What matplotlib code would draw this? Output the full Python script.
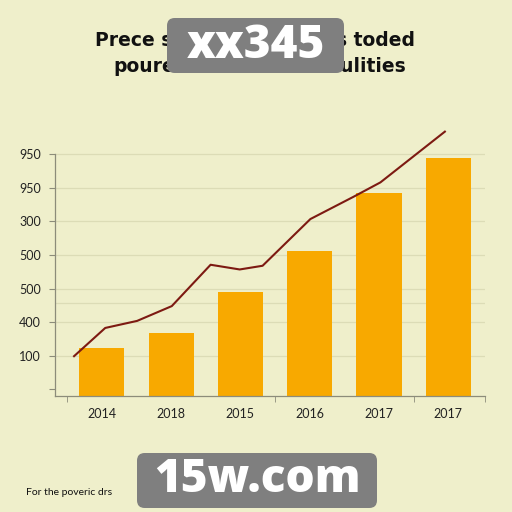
import numpy as np
import matplotlib
matplotlib.use('Agg')
import matplotlib.pyplot as plt
from matplotlib.patches import FancyBboxPatch

# data (tick units: one step = 100)
years = ['2014', '2018', '2015', '2016', '2017', '2017']
bar_values = [123, 168, 290, 412, 583, 690]
line_x = [-0.40, 0.05, 0.51, 1.01, 1.57, 1.99, 2.32, 3.01, 3.63, 4.02, 4.95]
line_y = [99, 183, 204, 248, 371, 357, 368, 507, 573, 616, 767]
ytick_vals = [0, 100, 200, 300, 400, 500, 600, 700]
ytick_labels = ['', '100', '400', '500', '500', '300', '950', '950']
extra_grid = 257
# title pieces left / right of the watermark
title_left = ['Prece s', 'poure']
title_right = ['s toded', 'culities']
footnote = 'For the poveric drs'

BG = '#efefcb'
BAR = '#f8a900'
LINE = '#7d1a12'
GRID = '#dcdcb6'
AXC = '#8c8c7a'

plt.rcParams['font.family'] = ['Lato', 'DejaVu Sans']

fig = plt.figure(figsize=(5.12, 5.12), dpi=100)
fig.patch.set_facecolor(BG)
ax = fig.add_axes([0.1074, 0.2275, 0.840, 0.5305])
ax.set_facecolor(BG)

ymin = -18
x = np.arange(len(years))
ax.bar(x, np.array(bar_values) - ymin, bottom=ymin, width=0.65, color=BAR, zorder=2)
ax.plot(line_x, line_y, color=LINE, lw=1.5, zorder=3)

ax.set_xlim(-0.675, 5.53)
ax.set_ylim(ymin, 790)

ax.set_yticks(ytick_vals)
ax.set_yticklabels(ytick_labels, fontsize=9, color='#222222')
ax.set_xticks(x)
ax.set_xticklabels(years, fontsize=9, color='#222222')
ax.tick_params(axis='x', length=0, pad=9)
ax.tick_params(axis='y', length=4, color=AXC, pad=6)
ax.set_xticks([-0.5, 2.5, 4.5, 5.53], minor=True)
ax.tick_params(axis='x', which='minor', length=4, color=AXC)

for v in ytick_vals[1:] + [extra_grid]:
    ax.axhline(v, color=GRID, lw=0.9, zorder=1)

for s in ['top', 'right']:
    ax.spines[s].set_visible(False)
for s in ['left', 'bottom']:
    ax.spines[s].set_color(AXC)
    ax.spines[s].set_linewidth(0.9)
ax.spines['left'].set_bounds(ymin, 700)

tkw = dict(va='center', fontsize=13.5, fontweight='bold', color='#111111',
           family=['DejaVu Sans'])
fig.text(95 / 512, 1 - 40 / 512, title_left[0], ha='left', **tkw)
fig.text(113 / 512, 1 - 66 / 512, title_left[1], ha='left', **tkw)
fig.text(415 / 512, 1 - 40 / 512, title_right[0], ha='right', **tkw)
fig.text(406 / 512, 1 - 66 / 512, title_right[1], ha='right', **tkw)
fig.text(0.051, 0.039, footnote, ha='left', va='center', fontsize=7.5, color='#111111')

# watermark boxes
for (x0, y0, w, h, txt) in [(167, 18, 177, 55, 'xx345'), (137, 453, 240, 55, '15w.com')]:
    box = FancyBboxPatch((x0 / 512, 1 - (y0 + h) / 512), w / 512, h / 512,
                         boxstyle='round,pad=0,rounding_size=0.015',
                         transform=fig.transFigure, facecolor='#7f7f7f',
                         edgecolor='none', zorder=10)
    fig.patches.append(box)
    fig.text((x0 + w / 2) / 512, 1 - (y0 + h / 2) / 512, txt, ha='center', va='center',
             fontsize=33, fontweight='heavy', color='white', zorder=11,
             family=['Open Sans', 'DejaVu Sans'])

fig.savefig('out.png', dpi=100, facecolor=BG)
